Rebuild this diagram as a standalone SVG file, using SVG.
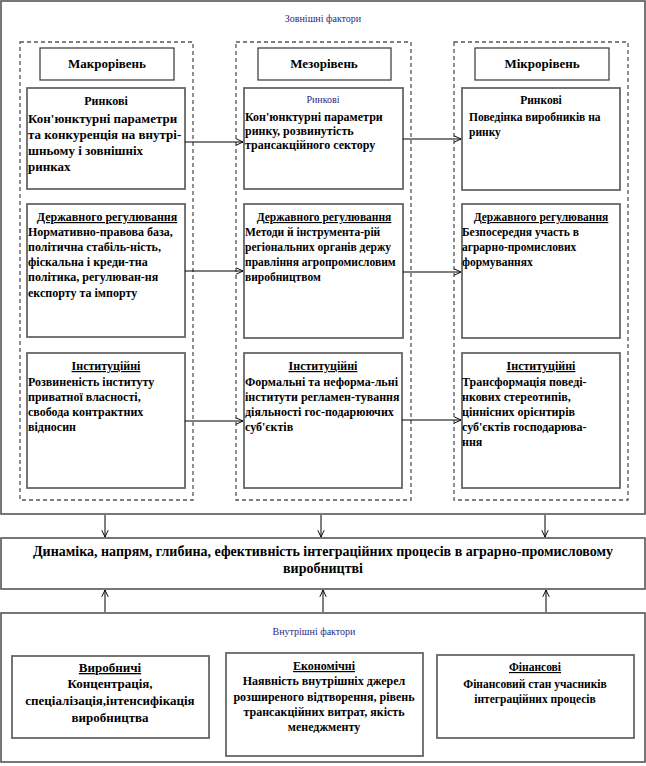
<svg xmlns="http://www.w3.org/2000/svg" width="646" height="766" viewBox="0 0 646 766" font-family="'Liberation Serif', 'Times New Roman', serif">
<defs>
<marker id="arr" viewBox="0 0 10 10" refX="9.5" refY="5" markerWidth="8" markerHeight="8" markerUnits="userSpaceOnUse" orient="auto">
<path d="M1,1 L9.5,5 L1,9" fill="none" stroke="#000" stroke-width="1.2"/>
</marker>
<style>
.outer{fill:#fff;stroke:#555;stroke-width:1.6}
.dash{fill:none;stroke:#555;stroke-width:1.3;stroke-dasharray:4 3}
.card{fill:#fff;stroke:#666;stroke-width:1.8}
.hdr{fill:#fff;stroke:#444;stroke-width:1.3}
text{font-family:"Liberation Serif","Times New Roman",serif;fill:#000;font-weight:bold}
.t14{font-size:14px}
.t13{font-size:13px}
.t12{font-size:12px}
.t11{font-size:11.5px}
.c{text-anchor:middle}
.u{text-decoration:underline}
.ttl{font-size:10px;font-weight:normal;fill:#2b2b80;text-anchor:middle}
.conn line{stroke:#000;stroke-width:1;marker-end:url(#arr)}
</style>
</defs>
<rect width="646" height="766" fill="#fff"/>

<g id="external">
<rect class="outer" x="1" y="1" width="644" height="513"/>
<text class="ttl" x="323" y="22">Зовнішні фактори</text>
<rect class="dash" x="20" y="42" width="173" height="458"/>
<rect class="dash" x="236" y="42" width="175" height="458"/>
<rect class="dash" x="454" y="42" width="174" height="458"/>
</g>

<g id="hdr-macro"><rect class="hdr" x="40" y="48" width="134" height="32"/><text class="t13 c" x="107" y="68">Макрорівень</text></g>
<g id="hdr-meso"><rect class="hdr" x="258" y="48" width="133" height="32"/><text class="t13 c" x="324" y="68">Мезорівень</text></g>
<g id="hdr-micro"><rect class="hdr" x="475" y="48" width="134" height="32"/><text class="t13 c" x="542" y="68">Мікрорівень</text></g>

<g id="macro-market">
<rect class="card" x="27" y="88" width="158" height="101"/>
<text class="t12 c" x="106" y="105">Ринкові</text>
<text class="t13" x="28" y="123">Кон'юнктурні параметри</text>
<text class="t13" x="28" y="139">та конкуренція на внутрі-</text>
<text class="t13" x="28" y="155">шньому і зовнішніх</text>
<text class="t13" x="28" y="171">ринках</text>
</g>
<g id="meso-market">
<rect class="card" x="244" y="88" width="159" height="101"/>
<text class="ttl" x="323" y="103">Ринкові</text>
<text class="t12" x="245" y="121">Кон'юнктурні параметри</text>
<text class="t12" x="245" y="135">ринку, розвинутість</text>
<text class="t12" x="245" y="149">трансакційного сектору</text>
</g>
<g id="micro-market">
<rect class="card" x="462" y="88" width="158" height="102"/>
<text class="t11 c" x="541" y="104">Ринкові</text>
<text class="t11" x="469" y="121">Поведінка виробників на</text>
<text class="t11" x="469" y="136">ринку</text>
</g>

<g id="macro-state">
<rect class="card" x="27" y="204" width="158" height="133"/>
<text class="t12 c u" x="107" y="221">Державного регулювання</text>
<text class="t12" x="28" y="236">Нормативно-правова база,</text>
<text class="t12" x="28" y="251">політична стабіль-ність,</text>
<text class="t12" x="28" y="266">фіскальна і креди-тна</text>
<text class="t12" x="28" y="281">політика, регулюван-ня</text>
<text class="t12" x="28" y="297">експорту та імпорту</text>
</g>
<g id="meso-state">
<rect class="card" x="244" y="204" width="159" height="134"/>
<text class="t11 c u" x="324" y="221">Державного регулювання</text>
<text class="t11" x="245" y="236">Методи й інструмента-рій</text>
<text class="t11" x="245" y="251">регіональних органів держу</text>
<text class="t11" x="245" y="266">правління агропромисловим</text>
<text class="t11" x="245" y="281">виробництвом</text>
</g>
<g id="micro-state">
<rect class="card" x="462" y="204" width="158" height="134"/>
<text class="t11 c u" x="541" y="221">Державного регулювання</text>
<text class="t11" x="462" y="236">Безпосередня участь в</text>
<text class="t11" x="462" y="251">аграрно-промислових</text>
<text class="t11" x="462" y="266">формуваннях</text>
</g>

<g id="macro-inst">
<rect class="card" x="27" y="353" width="158" height="135"/>
<text class="t12 c u" x="106" y="370">Інституційні</text>
<text class="t12" x="28" y="386">Розвиненість інституту</text>
<text class="t12" x="28" y="401">приватної власності,</text>
<text class="t12" x="28" y="416">свобода контрактних</text>
<text class="t12" x="28" y="431">відносин</text>
</g>
<g id="meso-inst">
<rect class="card" x="244" y="353" width="158" height="135"/>
<text class="t12 c u" x="323" y="370">Інституційні</text>
<text class="t12" x="245" y="386">Формальні та неформа-льні</text>
<text class="t12" x="245" y="401">інститути регламен-тування</text>
<text class="t12" x="245" y="416">діяльності гос-подарюючих</text>
<text class="t12" x="245" y="431">суб'єктів</text>
</g>
<g id="micro-inst">
<rect class="card" x="462" y="353" width="158" height="135"/>
<text class="t12 c u" x="541" y="370">Інституційні</text>
<text class="t12" x="462" y="386">Трансформація поведі-</text>
<text class="t12" x="462" y="401">нкових стереотипів,</text>
<text class="t12" x="462" y="416">ціннісних орієнтирів</text>
<text class="t12" x="462" y="431">суб'єктів господарюва-</text>
<text class="t12" x="462" y="446">ння</text>
</g>

<g id="result">
<rect class="outer" x="1" y="538" width="644" height="51"/>
<text class="t14 c" x="323" y="556">Динаміка, напрям, глибина, ефективність інтеграційних процесів в аграрно-промисловому</text>
<text class="t14 c" x="323" y="573">виробництві</text>
</g>

<g id="internal">
<rect class="outer" x="1" y="613" width="644" height="149"/>
<text class="ttl" x="314" y="635">Внутрішні фактори</text>
</g>
<g id="int-prod">
<rect class="card" x="12" y="656" width="197" height="82"/>
<text class="t13 c u" x="110" y="672">Виробничі</text>
<text class="t13 c" x="110" y="688">Концентрація,</text>
<text class="t13 c" x="110" y="705">спеціалізація,інтенсифікація</text>
<text class="t13 c" x="110" y="722">виробництва</text>
</g>
<g id="int-econ">
<rect class="card" x="226" y="653" width="197" height="103"/>
<text class="t12 c u" x="324" y="670">Економічні</text>
<text class="t12 c" x="324" y="685">Наявність внутрішніх джерел</text>
<text class="t12 c" x="324" y="701">розширеного відтворення, рівень</text>
<text class="t12 c" x="324" y="716">трансакційних витрат, якість</text>
<text class="t12 c" x="324" y="731">менеджменту</text>
</g>
<g id="int-fin">
<rect class="card" x="437" y="655" width="197" height="83"/>
<text class="t11 c u" x="535" y="671">Фінансові</text>
<text class="t11 c" x="535" y="688">Фінансовий стан учасників</text>
<text class="t11 c" x="535" y="703">інтеграційних процесів</text>
</g>

<g id="connectors" class="conn">
<line x1="185" y1="142" x2="243" y2="142"/>
<line x1="403" y1="139" x2="461" y2="139"/>
<line x1="185" y1="271" x2="243" y2="271"/>
<line x1="403" y1="272" x2="461" y2="272"/>
<line x1="185" y1="421" x2="243" y2="421"/>
<line x1="402" y1="420" x2="461" y2="420"/>
<line x1="105" y1="515" x2="105" y2="537"/>
<line x1="321" y1="515" x2="321" y2="537"/>
<line x1="545" y1="515" x2="545" y2="537"/>
<line x1="105" y1="612" x2="105" y2="590"/>
<line x1="323" y1="612" x2="323" y2="590"/>
<line x1="546" y1="612" x2="546" y2="590"/>
</g>
</svg>
